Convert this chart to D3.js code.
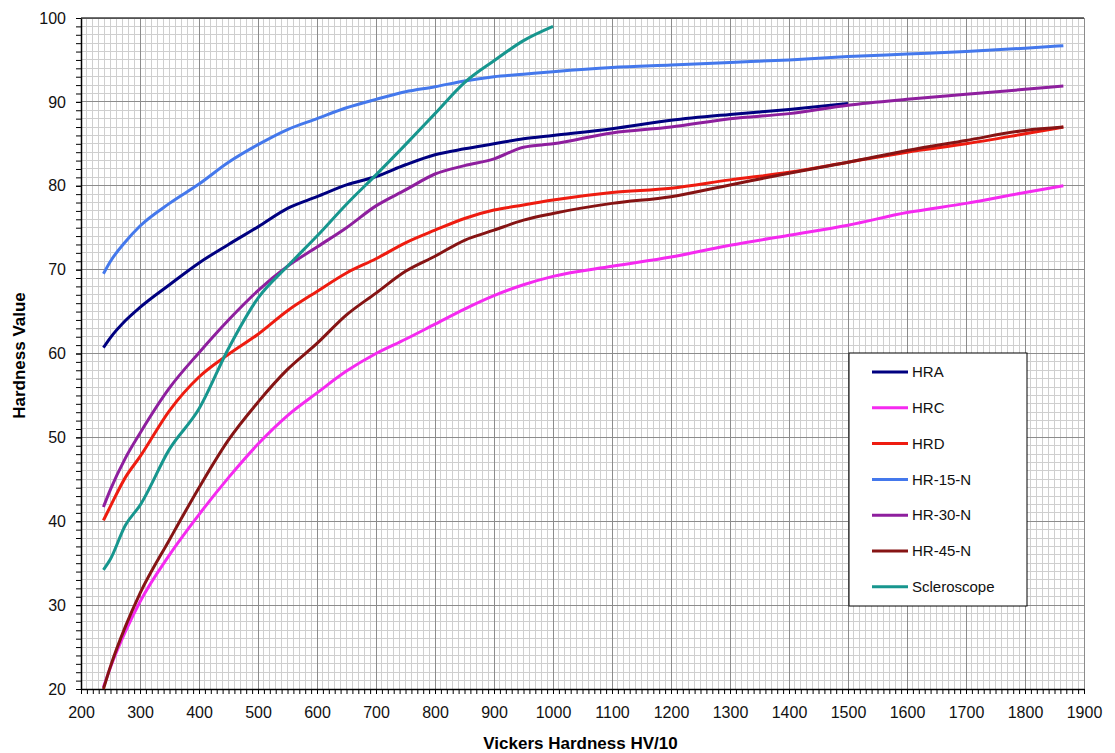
<!DOCTYPE html>
<html>
<head>
<meta charset="utf-8">
<script src="https://cdn.jsdelivr.net/npm/d3@7"></script>
<style>
  body { margin: 0; background: #fff; }
  text { font-family: "Liberation Sans", Arial, sans-serif; }
</style>
</head>
<body>
<svg class="chart" width="1115" height="753"></svg>
<script>
// Vickers hardness (HV/10) sample points, shared by all series
var hv = [238, 250, 275, 300, 350, 400, 450, 500, 550, 600, 650, 700, 750, 800, 850, 900, 950, 1000, 1100, 1200, 1300, 1400, 1500, 1600, 1700, 1800, 1865];

var hra   = [60.7, 61.9, 63.9, 65.5, 68.2, 70.8, 73.0, 75.1, 77.3, 78.7, 80.1, 81.1, 82.5, 83.7, 84.4, 85.0, 85.6, 86.0, 86.8, 87.8, 88.5, 89.1, 89.8, null, null, null, null];
var hrc   = [20.2, 22.6, 26.8, 30.4, 36.0, 40.8, 45.2, 49.2, 52.6, 55.3, 57.9, 60.0, 61.7, 63.5, 65.3, 66.9, 68.2, 69.2, 70.4, 71.5, 72.9, 74.1, 75.3, 76.8, 77.9, 79.2, 80.0];
var hrd   = [40.1, 41.8, 45.2, 47.7, 53.2, 57.2, 59.9, 62.3, 65.1, 67.4, 69.6, 71.3, 73.2, 74.7, 76.1, 77.1, 77.7, 78.3, 79.2, 79.7, 80.7, 81.6, 82.8, 84.0, 85.0, 86.2, 87.0];
var hr15n = [69.5, 71.0, 73.3, 75.2, 77.9, 80.2, 82.8, 84.9, 86.7, 88.0, 89.3, 90.3, 91.2, 91.8, 92.5, 93.0, 93.3, 93.6, 94.1, 94.4, 94.7, 95.0, 95.4, 95.7, 96.0, 96.4, 96.7];
var hr30n = [41.7, 43.8, 47.5, 50.5, 55.9, 60.1, 64.0, 67.5, 70.4, 72.7, 75.0, 77.6, 79.5, 81.4, 82.4, 83.2, 84.6, 85.0, 86.3, 87.0, 88.0, 88.6, 89.6, 90.3, 90.9, 91.5, 91.9];
var hr45n = [20.0, 22.7, 27.4, 31.4, 37.8, 44.0, 49.7, 54.2, 58.1, 61.2, 64.6, 67.2, 69.8, 71.6, 73.5, 74.7, 75.9, 76.7, 77.9, 78.7, 80.1, 81.5, 82.8, 84.2, 85.4, 86.6, 87.0];
var sclero = [34.2, 35.5, 39.5, 41.9, 48.6, 53.4, 60.6, 66.6, 70.4, 74.0, 77.8, 81.3, 84.9, 88.6, 92.3, 94.9, 97.3, 99.0, null, null, null, null, null, null, null, null, null];

var names  = ["HRA", "HRC", "HRD", "HR-15-N", "HR-30-N", "HR-45-N", "Scleroscope"];
var values = [hra, hrc, hrd, hr15n, hr30n, hr45n, sclero];
var colors = ["#000080", "#f52af0", "#ee1c10", "#4478ec", "#8e1f9e", "#861414", "#17968e"];

var xTicks = [200, 300, 400, 500, 600, 700, 800, 900, 1000, 1100, 1200, 1300, 1400, 1500, 1600, 1700, 1800, 1900];
var yTicks = [20, 30, 40, 50, 60, 70, 80, 90, 100];

var margin = {top: 18, right: 31, bottom: 64, left: 81};
var svg = d3.select(".chart");
var w = svg.attr("width") - margin.left - margin.right;
var h = svg.attr("height") - margin.top - margin.bottom;

var xScale = d3.scaleLinear().domain([200, 1900]).range([0, w]);
var yScale = d3.scaleLinear().domain([20, 100]).range([h, 0]);

var g = svg.append("g")
    .attr("transform", "translate(" + margin.left + "," + margin.top + ")");

// minor grid
g.append("g").selectAll("line").data(d3.range(200, 1901, 10))
    .enter().append("line")
    .attr("x1", d => xScale(d)).attr("x2", d => xScale(d))
    .attr("y1", 0).attr("y2", h)
    .attr("stroke", "#cfcfcf").attr("stroke-width", 1)
    .attr("shape-rendering", "crispEdges");
g.append("g").selectAll("line").data(d3.range(20, 101, 1))
    .enter().append("line")
    .attr("x1", 0).attr("x2", w)
    .attr("y1", d => yScale(d)).attr("y2", d => yScale(d))
    .attr("stroke", "#cfcfcf").attr("stroke-width", 1)
    .attr("shape-rendering", "crispEdges");

// major grid
g.append("g").selectAll("line").data(xTicks)
    .enter().append("line")
    .attr("x1", d => xScale(d)).attr("x2", d => xScale(d))
    .attr("y1", 0).attr("y2", h)
    .attr("stroke", "#8c8c8c").attr("stroke-width", 1)
    .attr("shape-rendering", "crispEdges");
g.append("g").selectAll("line").data(yTicks)
    .enter().append("line")
    .attr("x1", 0).attr("x2", w)
    .attr("y1", d => yScale(d)).attr("y2", d => yScale(d))
    .attr("stroke", "#8c8c8c").attr("stroke-width", 1)
    .attr("shape-rendering", "crispEdges");

// top border
g.append("line").attr("x1", 0).attr("x2", w).attr("y1", 0).attr("y2", 0)
    .attr("stroke", "#404040").attr("stroke-width", 1.5);

// minor ticks
g.append("g").attr("transform", "translate(0," + h + ")")
    .call(d3.axisBottom(xScale).tickValues(d3.range(200, 1901, 10)).tickSize(5).tickFormat(""))
    .call(a => a.select(".domain").remove());
g.append("g")
    .call(d3.axisLeft(yScale).tickValues(d3.range(20, 101, 1)).tickSize(5).tickFormat(""))
    .call(a => a.select(".domain").remove());

// axes with labels
var xAxis = g.append("g").attr("transform", "translate(0," + h + ")")
    .call(d3.axisBottom(xScale).tickValues(xTicks).tickFormat(d3.format("d"))
        .tickSize(5).tickPadding(13).tickSizeOuter(0));
var yAxis = g.append("g")
    .call(d3.axisLeft(yScale).tickValues(yTicks).tickFormat(d3.format("d"))
        .tickSize(5).tickPadding(10).tickSizeOuter(0));
[xAxis, yAxis].forEach(function(a) {
    a.selectAll("text").style("font-size", "16px").style("font-family", "'Liberation Sans', Arial").attr("fill", "#111");
    a.select(".domain").attr("stroke", "#000").attr("stroke-width", 1.5);
});

// series
var line = d3.line()
    .defined(d => d[1] != null)
    .x(d => xScale(d[0]))
    .y(d => yScale(d[1]))
    .curve(d3.curveMonotoneX);

names.forEach(function(name, i) {
    var pts = hv.map((x, j) => [x, values[i][j]]);
    g.append("path")
        .datum(pts)
        .attr("class", "series")
        .attr("fill", "none")
        .attr("stroke", colors[i])
        .attr("stroke-width", 3)
        .attr("stroke-linejoin", "round")
        .attr("d", line);
});

// legend
var legend = svg.append("g").attr("transform", "translate(849,353)");
legend.append("rect")
    .attr("width", 178).attr("height", 253)
    .attr("fill", "#fff").attr("stroke", "#000").attr("stroke-width", 1);
names.forEach(function(name, i) {
    var ly = 19 + i * 35.8;
    legend.append("line")
        .attr("x1", 23).attr("x2", 59).attr("y1", ly).attr("y2", ly)
        .attr("stroke", colors[i]).attr("stroke-width", 3);
    legend.append("text")
        .attr("x", 63).attr("y", ly)
        .attr("dy", "0.35em")
        .style("font-size", "15px")
        .attr("fill", "#111")
        .text(name);
});

// axis titles
svg.append("text")
    .attr("x", margin.left + w / 2 - 2)
    .attr("y", 749)
    .attr("text-anchor", "middle")
    .attr("font-weight", "bold")
    .style("font-size", "17px")
    .text("Vickers Hardness HV/10");

svg.append("text")
    .attr("transform", "translate(25," + (margin.top + h / 2 + 2) + ") rotate(-90)")
    .attr("text-anchor", "middle")
    .attr("font-weight", "bold")
    .style("font-size", "17px")
    .text("Hardness Value");
</script>
</body>
</html>
